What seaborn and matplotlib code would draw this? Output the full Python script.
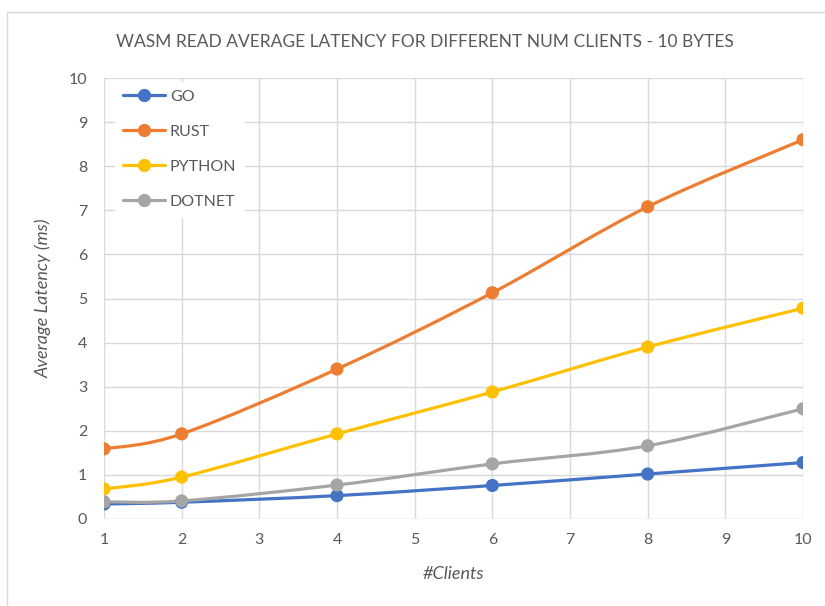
import matplotlib
matplotlib.use("Agg")
import matplotlib.pyplot as plt
import seaborn as sns
import pandas as pd
from matplotlib.path import Path
from matplotlib.patches import PathPatch, Rectangle
from matplotlib.lines import Line2D

clients = [1, 2, 4, 6, 8, 10]
go = [0.34, 0.38, 0.53, 0.76, 1.02, 1.28]
rust = [1.59, 1.93, 3.40, 5.13, 7.08, 8.60]
python = [0.68, 0.95, 1.93, 2.88, 3.90, 4.78]
dotnet = [0.39, 0.41, 0.77, 1.25, 1.66, 2.50]
series_names = ["GO", "RUST", "PYTHON", "DOTNET"]
colors = ["#4472C4", "#ED7D31", "#FFC000", "#A5A5A5"]

title = "WASM READ AVERAGE LATENCY FOR DIFFERENT NUM CLIENTS - 10 BYTES"
xlabel = "#Clients"
ylabel = "Average Latency (ms)"

sns.set_theme(style="white")
plt.rcParams['font.family'] = ['Lato', 'DejaVu Sans']

rows = []
for name, vals in zip(series_names, [go, rust, python, dotnet]):
    for c, v in zip(clients, vals):
        rows.append({"Clients": c, "Latency": v, "Series": name})
df = pd.DataFrame(rows)

fig = plt.figure(figsize=(8.25, 6.06), dpi=100)
ax = fig.add_axes([104/825, 1-519/606, (803-104)/825, (519-78)/606])

fig.patches.append(Rectangle((7/825, -0.01), 1.0, 1 - 12/606 + 0.01, transform=fig.transFigure,
                             fill=False, edgecolor="#d9d9d9", lw=1.0))

def smooth_path(xs, ys):
    pts = list(zip(xs, ys))
    n = len(pts)
    verts = [pts[0]]
    codes = [Path.MOVETO]
    for i in range(n - 1):
        p0 = pts[i - 1] if i > 0 else pts[i]
        p1 = pts[i]
        p2 = pts[i + 1]
        p3 = pts[i + 2] if i + 2 < n else pts[i + 1]
        c1 = (p1[0] + (p2[0] - p0[0]) / 6, p1[1] + (p2[1] - p0[1]) / 6)
        c2 = (p2[0] - (p3[0] - p1[0]) / 6, p2[1] - (p3[1] - p1[1]) / 6)
        verts += [c1, c2, p2]
        codes += [Path.CURVE4] * 3
    return Path(verts, codes)

for name, col in zip(series_names, colors):
    sub = df[df.Series == name]
    patch = PathPatch(smooth_path(sub.Clients.tolist(), sub.Latency.tolist()),
                      facecolor="none", edgecolor=col, lw=2.3, zorder=3,
                      capstyle="round", joinstyle="round")
    ax.add_patch(patch)

sns.scatterplot(data=df, x="Clients", y="Latency", hue="Series", palette=colors,
                s=90, edgecolor="none", ax=ax, zorder=4, legend=False)

ax.set_xlim(1, 10)
ax.set_ylim(0, 10)
ax.set_xticks(range(1, 11))
ax.set_yticks(range(0, 11))
ax.grid(True, color="#d9d9d9", lw=1.0)
ax.set_axisbelow(True)
for s in ax.spines.values():
    s.set_visible(False)
ax.tick_params(axis="both", length=0, labelsize=11.5, labelcolor="#595959")
ax.tick_params(axis="x", pad=10)
ax.tick_params(axis="y", pad=12)

ax.set_xlabel(xlabel, fontsize=13, style="italic", color="#595959", labelpad=14)
ax.set_ylabel(ylabel, fontsize=13, style="italic", color="#595959", labelpad=12)
fig.text(425/825, 1-42/606, title, ha="center", va="center", fontsize=12.5, color="#595959")

handles = [Line2D([0], [0], color=c, lw=2.3, marker="o", markersize=8.5) for c in colors]
leg = ax.legend(handles, series_names, loc="upper left", bbox_to_anchor=(0.005, 1.01),
                frameon=True, fancybox=False, framealpha=1.0, edgecolor="white",
                fontsize=11.5, handlelength=2.6, labelspacing=1.3, borderpad=0.5,
                handletextpad=0.3)
for t in leg.get_texts():
    t.set_color("#595959")

fig.savefig("out.png", dpi=100)
